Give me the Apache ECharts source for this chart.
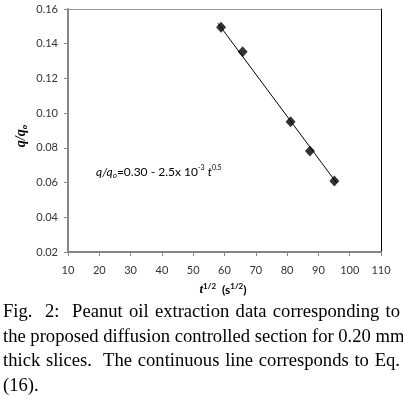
<!DOCTYPE html>
<html>
<head>
<meta charset="utf-8">
<script src="https://cdn.jsdelivr.net/npm/echarts@6/dist/echarts.min.js"></script>
<style>
  html, body { margin: 0; padding: 0; background: #fff; }
  #wrap { position: relative; width: 403px; height: 399px; overflow: hidden; }
  #chart { position: absolute; left: 0; top: 0; width: 403px; height: 399px; }
  .caption {
    position: absolute; left: 3px; top: 299px; width: 397px;
    font-family: "Liberation Serif", "Times New Roman", serif;
    font-size: 18.6px; line-height: 24.6px; color: #000;
  }
  .caption div { white-space: nowrap; text-align: justify; text-align-last: justify; }
  .caption div.last { text-align-last: left; }
</style>
</head>
<body>
<div id="wrap">
  <div id="chart"></div>
  <div class="caption">
    <div>Fig.&nbsp; 2:&nbsp; Peanut oil extraction data corresponding to</div>
    <div>the proposed diffusion controlled section for 0.20 mm</div>
    <div>thick slices.&nbsp; The continuous line corresponds to Eq.</div>
    <div class="last">(16).</div>
  </div>
</div>
<script>
// measured points: t^1/2 (s^1/2) vs q/qo
const sqrtT = [58.9, 65.8, 81.1, 87.3, 95.1];
const qRatio = [0.1495, 0.1354, 0.0951, 0.0782, 0.0609];
// ends of the fitted line (Eq. 16)
const fitT = [57.9, 95.8];
const fitQ = [0.1518, 0.0598];

const xTicks = { min: 10, max: 110, step: 10 };
const yTicks = { min: 0.02, max: 0.16, step: 0.02 };

const chart = echarts.init(document.getElementById("chart"));
const tickFont = { fontFamily: "Lato", fontSize: 11, color: "#333" };

const option = {
  animation: false,
  grid: { left: 68, right: 22, top: 9, bottom: 147, containLabel: false },
  xAxis: [
    {
      type: "value",
      min: xTicks.min, max: xTicks.max, interval: xTicks.step,
      axisLine: { show: true, onZero: false, lineStyle: { color: "#868686", width: 2 } },
      axisTick: { show: true, inside: false, length: 4, lineStyle: { color: "#868686" } },
      axisLabel: Object.assign({ margin: 13 }, tickFont),
      splitLine: { show: false }
    },
    {
      type: "value", position: "top",
      min: xTicks.min, max: xTicks.max,
      axisLine: { show: true, onZero: false, lineStyle: { color: "#9a9a9a", width: 1 } },
      axisTick: { show: false }, axisLabel: { show: false }, splitLine: { show: false }
    }
  ],
  yAxis: [
    {
      type: "value",
      min: yTicks.min, max: yTicks.max, interval: yTicks.step,
      axisLine: { show: true, onZero: false, lineStyle: { color: "#868686", width: 2 } },
      axisTick: { show: true, inside: false, length: 4, lineStyle: { color: "#868686" } },
      axisLabel: Object.assign({ margin: 10, formatter: v => v.toFixed(2) }, tickFont),
      splitLine: { show: false }
    },
    {
      type: "value", position: "right",
      min: yTicks.min, max: yTicks.max,
      axisLine: { show: true, onZero: false, lineStyle: { color: "#000", width: 1 } },
      axisTick: { show: false }, axisLabel: { show: false }, splitLine: { show: false }
    }
  ],
  series: [
    {
      type: "line",
      data: fitT.map((t, i) => [t, fitQ[i]]),
      showSymbol: false,
      lineStyle: { color: "#000", width: 1 },
      z: 2
    },
    {
      type: "scatter",
      data: sqrtT.map((t, i) => [t, qRatio[i]]),
      symbol: "diamond",
      symbolSize: [10, 11],
      itemStyle: { color: "#000" },
      z: 3
    }
  ],
  graphic: [
    {
      type: "text", x: 21, y: 136, rotation: Math.PI / 2, origin: [0, 0],
      style: {
        text: "{m|q/q}{s|o}",
        align: "center", verticalAlign: "middle",
        rich: {
          m: { fontFamily: "Liberation Serif", fontStyle: "italic", fontWeight: "bold", fontSize: 14, fill: "#000" },
          s: { fontFamily: "Liberation Serif", fontStyle: "italic", fontWeight: "bold", fontSize: 9, fill: "#000", padding: [7, 0, 0, 0] }
        }
      }
    },
    {
      type: "text", x: 223, y: 290,
      style: {
        text: "{t|t}{sup|1/2}{n|  (s}{sup|1/2}{n|)}",
        align: "center", verticalAlign: "middle",
        rich: {
          t: { fontFamily: "Liberation Serif", fontStyle: "italic", fontWeight: "bold", fontSize: 13, fill: "#000" },
          n: { fontFamily: "Lato", fontWeight: "bold", fontSize: 12, fill: "#000" },
          sup: { fontFamily: "Lato", fontWeight: "bold", fontSize: 8, fill: "#000", padding: [0, 0, 7, 0] }
        }
      }
    },
    {
      type: "text", x: 96, y: 172,
      style: {
        text: "{i|q/q}{sub|o}{n|=0.30 - 2.5x 10}{sup|-3}{n| }{i|t}{sup|0.5}",
        verticalAlign: "middle",
        rich: {
          i: { fontFamily: "Lato", fontStyle: "italic", fontSize: 12, fill: "#000" },
          n: { fontFamily: "Lato", fontSize: 12, fill: "#000" },
          sub: { fontFamily: "Lato", fontStyle: "italic", fontSize: 8, fill: "#000", padding: [6, 0, 0, 0] },
          sup: { fontFamily: "Lato", fontSize: 7, fill: "#000", padding: [0, 0, 8, 0] }
        }
      }
    }
  ]
};
chart.setOption(option);
</script>
</body>
</html>
